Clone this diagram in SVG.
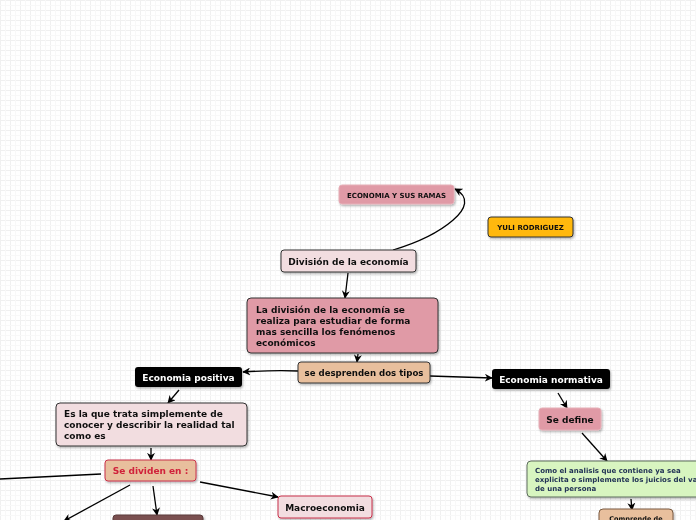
<svg xmlns="http://www.w3.org/2000/svg" width="696" height="520" viewBox="0 0 696 520">
<defs>
<pattern id="grid" width="10" height="10" patternUnits="userSpaceOnUse">
<rect width="10" height="10" fill="#ffffff"/>
<path d="M0 0.5H10M0.5 0V10" stroke="#f0f0f0" stroke-width="1" fill="none"/>
<path d="M0 5.5H10M5.5 0V10" stroke="#f8f8f8" stroke-width="1" fill="none"/>
</pattern>
<marker id="arr" viewBox="0 0 10 10" refX="9" refY="5" markerWidth="8" markerHeight="8" markerUnits="userSpaceOnUse" orient="auto">
<path d="M0,0 L10,5 L0,10 L3,5 z" fill="#000"/>
</marker>
<filter id="sh" x="-10%" y="-20%" width="130%" height="160%">
<feDropShadow dx="1" dy="1.5" stdDeviation="1" flood-color="#000" flood-opacity="0.3"/>
</filter>
</defs>
<style>
text{font-family:"DejaVu Sans",Verdana,sans-serif;font-weight:bold;}
.n{filter:url(#sh);}
.c path,.c line{stroke:#000;stroke-width:1.3;fill:none;}
.t9{font-size:9px;fill:#111;}
.t7{font-size:7px;fill:#111;}
.w{font-size:9px;fill:#fff;}
</style>
<rect width="696" height="520" fill="url(#grid)"/>

<g class="c">
<path d="M393,250 C440,236 485,205 455,189" marker-end="url(#arr)"/>
<line x1="348" y1="273" x2="345" y2="298" marker-end="url(#arr)"/>
<line x1="358" y1="354" x2="357" y2="362" marker-end="url(#arr)"/>
<path d="M298,371 C275,370 258,371 243,372" marker-end="url(#arr)"/>
<line x1="430" y1="376" x2="492" y2="378" marker-end="url(#arr)"/>
<line x1="179" y1="390" x2="168" y2="403" marker-end="url(#arr)"/>
<line x1="151" y1="448" x2="151" y2="460" marker-end="url(#arr)"/>
<line x1="101" y1="474" x2="0" y2="479"/>
<line x1="130" y1="485" x2="64" y2="521" marker-end="url(#arr)"/>
<line x1="153" y1="486" x2="157" y2="515" marker-end="url(#arr)"/>
<line x1="200" y1="482" x2="278" y2="497" marker-end="url(#arr)"/>
<line x1="558" y1="393" x2="567" y2="408" marker-end="url(#arr)"/>
<line x1="582" y1="433" x2="607" y2="461" marker-end="url(#arr)"/>
<line x1="631" y1="499" x2="632" y2="510" marker-end="url(#arr)"/>
</g>

<g id="n-ramas" class="n">
<rect x="339" y="185" width="115" height="19" rx="3" fill="#e09aa6" stroke="#e6b0b8"/>
<text x="396.5" y="197.5" class="t7" text-anchor="middle">ECONOMIA Y SUS RAMAS</text>
</g>
<g id="n-yuli" class="n">
<rect x="488" y="217" width="85" height="20" rx="3" fill="#ffb80c" stroke="#333"/>
<text x="530.5" y="230" class="t7" text-anchor="middle">YULI RODRIGUEZ</text>
</g>
<g id="n-division" class="n">
<rect x="281" y="250" width="135" height="22" rx="3" fill="#f2dde0" stroke="#333"/>
<text x="348.5" y="264.5" class="t9" text-anchor="middle">División de la economía</text>
</g>
<g id="n-ladivision" class="n">
<rect x="247" y="298" width="191" height="55" rx="4" fill="#e09aa6" stroke="#333"/>
<text class="t9"><tspan x="256" y="313">La división de la economía se</tspan><tspan x="256" y="324">realiza para estudiar de forma</tspan><tspan x="256" y="335">mas sencilla los fenómenos</tspan><tspan x="256" y="346">económicos</tspan></text>
</g>
<g id="n-desprenden" class="n">
<rect x="298" y="362" width="132" height="21" rx="3" fill="#e8bf9d" stroke="#333"/>
<text x="364" y="376" class="t9" text-anchor="middle" style="font-size:8.6px">se desprenden dos tipos</text>
</g>
<g id="n-positiva" class="n">
<rect x="135" y="367" width="107" height="20" rx="3" fill="#000"/>
<text x="188.5" y="380.5" class="w" text-anchor="middle">Economia positiva</text>
</g>
<g id="n-normativa" class="n">
<rect x="492" y="369" width="118" height="20" rx="3" fill="#000"/>
<text x="551" y="382.5" class="w" text-anchor="middle">Economia normativa</text>
</g>
<g id="n-esla" class="n">
<rect x="56" y="403" width="191" height="43" rx="4" fill="#f2dde0" stroke="#333"/>
<text class="t9"><tspan x="64" y="417">Es la que trata simplemente de</tspan><tspan x="64" y="428">conocer y describir la realidad tal</tspan><tspan x="64" y="439">como es</tspan></text>
</g>
<g id="n-dividen" class="n">
<rect x="105" y="460" width="91" height="21" rx="3" fill="#e8bf9d" stroke="#c8304a"/>
<text x="150.5" y="474" class="t9" text-anchor="middle" style="fill:#d0203a">Se dividen en :</text>
</g>
<g id="n-brown" class="n">
<rect x="113" y="515" width="90" height="20" rx="3" fill="#7a5050" stroke="#5a3a3a"/>
</g>
<g id="n-macro" class="n">
<rect x="278" y="496" width="94" height="22" rx="3" fill="#f2dde0" stroke="#c8304a"/>
<text x="325" y="510.5" class="t9" text-anchor="middle">Macroeconomia</text>
</g>
<g id="n-sedefine" class="n">
<rect x="539" y="408" width="62" height="22" rx="3" fill="#e09aa6" stroke="#e6b0b8"/>
<text x="570" y="422.5" class="t9" text-anchor="middle">Se define</text>
</g>
<g id="n-como" class="n">
<rect x="527" y="461" width="180" height="36" rx="4" fill="#d8f5c0" stroke="#5d6d5d"/>
<text class="t7" style="fill:#223355"><tspan x="535" y="473">Como el analisis que contiene  ya sea</tspan><tspan x="535" y="482">explicita o simplemente los juicios del valor</tspan><tspan x="535" y="491">de una persona</tspan></text>
</g>
<g id="n-comprende" class="n">
<rect x="599" y="509" width="74" height="20" rx="4" fill="#e8bf9d" stroke="#7a5a40"/>
<text x="636" y="521" class="t7" text-anchor="middle" style="font-size:6.5px">Comprende de</text>
</g>
</svg>
